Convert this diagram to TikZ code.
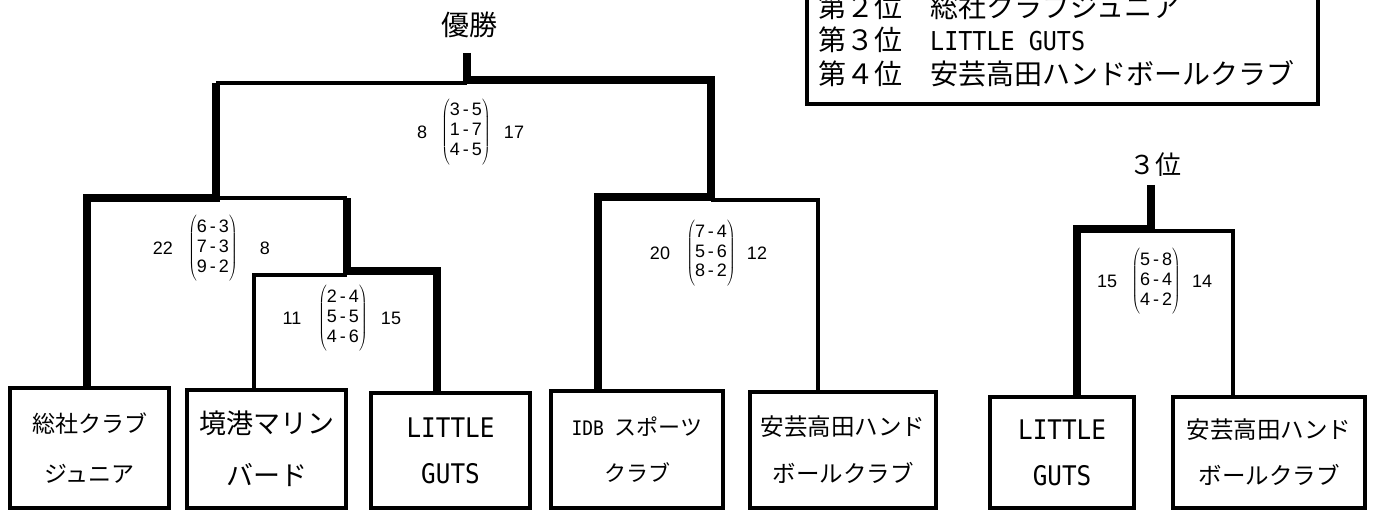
\documentclass[tikz,border=0pt]{standalone}
\usepackage{fontspec}
\newfontfamily\jpfont{Noto Sans CJK JP}
\newfontfamily\latinmono{DejaVu Sans Mono}[FakeStretch=0.9]
\newfontfamily\scorefont{Liberation Sans}
\newcommand{\setsz}[2]{\fontsize{#1}{#2}\selectfont}
\newcommand{\games}[3]{$\delimitershortfall=-6pt\left(\vcenter{\hbox{\begin{tabular}{@{}c@{}}#1\\#2\\#3\end{tabular}}}\right)$}

\begin{document}
\begin{tikzpicture}[x=1pt,y=-1pt,
    win/.style={line width=8pt},
    lose/.style={line width=4pt},
    team/.style={draw,line width=4pt,inner sep=0pt,align=center},
    score/.style={font=\scorefont\setsz{18}{20},inner sep=0pt}]
\useasboundingbox (0,0) rectangle (1373,513);
\clip (0,0) rectangle (1373,513);

% teams
\node[team,minimum width=159pt,minimum height=120pt,font=\jpfont\setsz{23}{50}] (sosha) at (89.5,448) {総社クラブ\\ジュニア};
\node[team,minimum width=159pt,minimum height=118pt,font=\jpfont\setsz{27}{52}] (sakai) at (266.5,449) {境港マリン\\バード};
\node[team,minimum width=159pt,minimum height=115pt,font=\latinmono\setsz{27}{46}] (guts) at (450.5,450.5) {LITTLE\\GUTS};
\node[team,minimum width=172pt,minimum height=117pt,font=\jpfont\setsz{22}{46}] (idb) at (637,449.5) {{\latinmono\setsz{20}{46}IDB }スポーツ\\クラブ};
\node[team,minimum width=186pt,minimum height=116pt,font=\jpfont\setsz{23.5}{47}] (aki) at (843,450) {安芸高田ハンド\\ボールクラブ};
\node[team,minimum width=144pt,minimum height=111pt,font=\latinmono\setsz{27}{46}] (guts3) at (1062,452.5) {LITTLE\\GUTS};
\node[team,minimum width=192pt,minimum height=111pt,font=\jpfont\setsz{23.5}{46}] (aki3) at (1269,452.5) {安芸高田ハンド\\ボールクラブ};

\node[font=\jpfont\setsz{28}{28}] (champ) at (469,25) {優勝};
\node[font=\jpfont\setsz{26}{26}] (third) at (1155,165) {３位};

% ranking box
\draw[lose] (807,-20) rectangle (1318,104);
\node[anchor=west,inner sep=0pt,align=left,font=\jpfont\setsz{28}{33.5}] (ranks) at (818,40) {第２位　総社クラブジュニア\\第３位　{\latinmono\setsz{26}{33.5}LITTLE GUTS}\\第４位　安芸高田ハンドボールクラブ};

% bracket corners
\coordinate (crown) at (467,53);
\coordinate (finW) at (467,80);
\coordinate (finT) at (467,83);
\coordinate (finL) at (216,83);
\coordinate (finR) at (711,80);
\coordinate (sfL) at (216,198);
\coordinate (sfLr) at (347,198);
\coordinate (qfW) at (347,271);
\coordinate (qfT) at (347,275);
\coordinate (sfR) at (711,197);
\coordinate (sfRT) at (711,200);
\coordinate (thTop) at (1151,185);
\coordinate (thW) at (1151,229);
\coordinate (thT) at (1151,231);

\draw[win] ([xshift=-2.5pt]sosha.north) |- (sfL) -- (finL);
\draw[lose] (finL) -- (finT);
\draw[win] (crown) -- (finW) -- (finR) -- (sfR) -| ([xshift=-39pt]idb.north);
\draw[lose] (sfL) -- (sfLr);
\draw[win] ([xshift=-13.5pt]guts.north) |- (qfW) -- (sfLr);
\draw[lose] ([xshift=-12.5pt]sakai.north) |- (qfT);
\draw[lose] (sfRT) -| ([xshift=-25pt]aki.north);
\draw[win] (thTop) -- (thW) -| ([xshift=15pt]guts3.north);
\draw[lose] (thT) -| ([xshift=-36pt]aki3.north);

% scores
\node[score] (fmat) at (466,132) {\games{3\,-\,5}{1\,-\,7}{4\,-\,5}};
\node[score] (fl) at (422,132) {8};
\node[score] (fr) at (514,132) {17};

\node[score] (slmat) at (213,248) {\games{6\,-\,3}{7\,-\,3}{9\,-\,2}};
\node[score] (sll) at (163,248) {22};
\node[score] (slr) at (265,248) {8};

\node[score] (qmat) at (343,318) {\games{2\,-\,4}{5\,-\,5}{4\,-\,6}};
\node[score] (ql) at (292,318) {11};
\node[score] (qr) at (391,318) {15};

\node[score] (srmat) at (711,253) {\games{7\,-\,4}{5\,-\,6}{8\,-\,2}};
\node[score] (srl) at (660,253) {20};
\node[score] (srr) at (757,253) {12};

\node[score] (tmat) at (1156,281) {\games{5\,-\,8}{6\,-\,4}{4\,-\,2}};
\node[score] (tl) at (1107,281) {15};
\node[score] (tr) at (1202,281) {14};

\end{tikzpicture}
\end{document}
